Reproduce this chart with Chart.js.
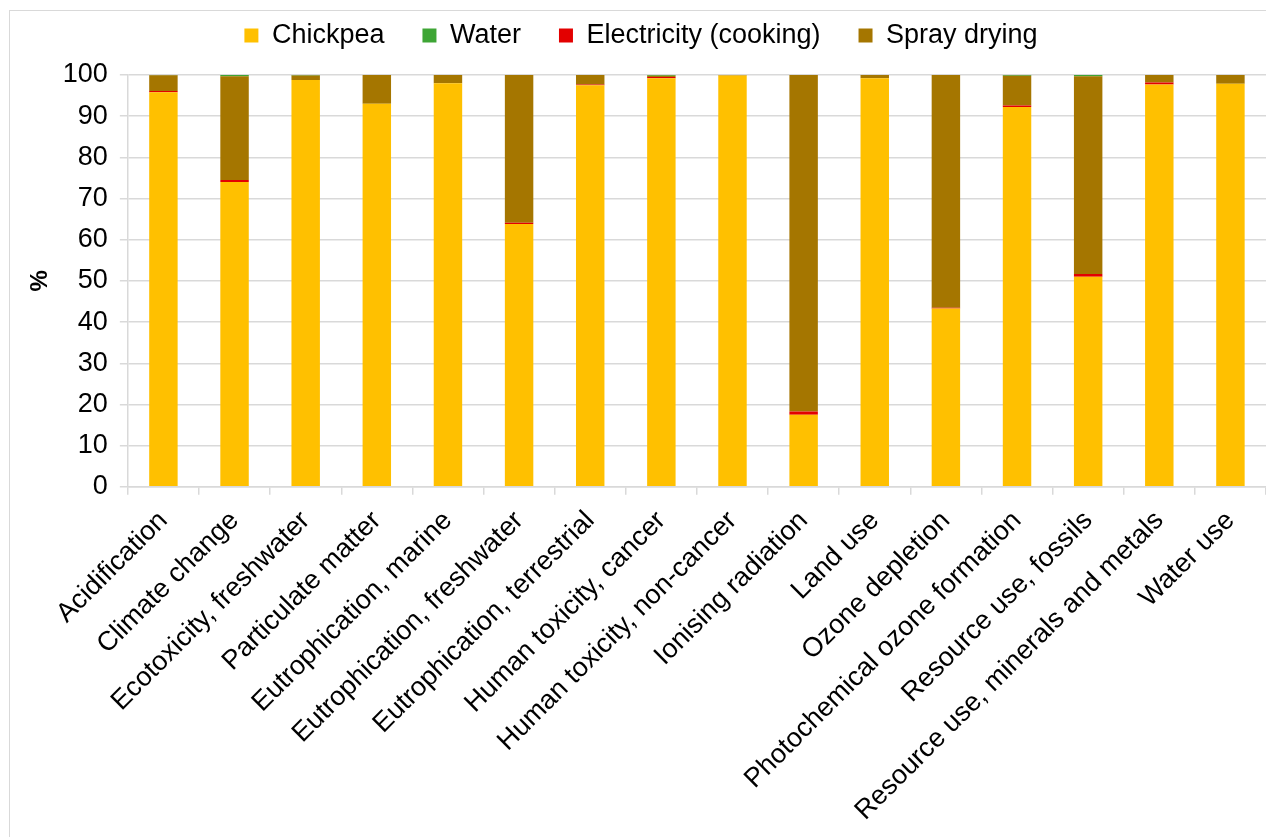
<!DOCTYPE html>
<html>
<head>
<meta charset="utf-8">
<script src="https://cdn.jsdelivr.net/npm/chart.js@4/dist/chart.umd.min.js"></script>
<style>
  html, body { margin: 0; padding: 0; background: #fff; overflow: hidden; }
  #frame {
    position: absolute; left: 9px; top: 10px;
    width: 1300px; height: 900px;
    border-left: 1px solid #d9d9d9; border-top: 1px solid #d9d9d9;
  }
  #wrap { position: absolute; left: 10px; top: -16px; width: 1256px; height: 853px; }
</style>
</head>
<body>
<div id="frame"></div>
<div id="wrap"><canvas id="myChart"></canvas></div>
<script>
const categories = [
  "Acidification", "Climate change", "Ecotoxicity, freshwater", "Particulate matter",
  "Eutrophication, marine", "Eutrophication, freshwater", "Eutrophication, terrestrial",
  "Human toxicity, cancer", "Human toxicity, non-cancer", "Ionising radiation", "Land use",
  "Ozone depletion", "Photochemical ozone formation", "Resource use, fossils",
  "Resource use, minerals and metals", "Water use"
];
const chickpea    = [95.8, 74.0, 98.8, 93.0, 98.0, 63.8, 97.5, 99.2, 99.9, 17.5, 99.2, 43.3, 92.2, 51.0, 97.7, 97.9];
const water       = [0.05, 0.3, 0.1, 0.0, 0.0, 0.0, 0.0, 0.2, 0.0, 0.0, 0.0, 0.0, 0.2, 0.3, 0.0, 0.0];
const electricity = [0.3, 0.5, 0.0, 0.0, 0.0, 0.3, 0.2, 0.3, 0.0, 0.8, 0.0, 0.2, 0.4, 0.7, 0.5, 0.0];
const sprayDrying = [3.85, 25.2, 1.1, 7.0, 2.0, 35.9, 2.3, 0.3, 0.1, 81.7, 0.8, 56.5, 7.2, 48.0, 1.8, 2.1];

const font = "'Liberation Sans', Arial, sans-serif";

// extra room between the legend and the plot
const legendGap = {
  id: "legendGap",
  beforeInit(chart) {
    const fit = chart.legend.fit;
    chart.legend.fit = function () {
      fit.bind(chart.legend)();
      this.height += 16;
    };
  },
};

new Chart("myChart", {
  type: "bar",
  data: {
    labels: categories,
    datasets: [
      { label: "Chickpea", data: chickpea, backgroundColor: "#ffc000", order: 1 },
      { label: "Water", data: water, backgroundColor: "#3ea535", order: 4 },
      { label: "Electricity (cooking)", data: electricity, backgroundColor: "#e30000", order: 2 },
      { label: "Spray drying", data: sprayDrying, backgroundColor: "#a57600", order: 3 },
    ],
  },
  plugins: [legendGap],
  options: {
    responsive: true,
    maintainAspectRatio: false,
    animation: false,
    barPercentage: 0.4,
    categoryPercentage: 1,
    layout: { padding: { left: 6, right: 0, top: 0, bottom: 0 } },
    plugins: {
      legend: {
        position: "top",
        labels: {
          font: { family: font, size: 27 },
          color: "#000",
          boxWidth: 14,
          boxHeight: 14,
          padding: 38,
          sort: (a, b) => a.datasetIndex - b.datasetIndex,
        },
      },
      tooltip: { enabled: false },
    },
    scales: {
      x: {
        stacked: true,
        grid: { drawOnChartArea: false, drawTicks: true, tickLength: 8, color: "#d9d9d9", lineWidth: 1.5 },
        border: { color: "#d9d9d9", width: 1.5 },
        ticks: {
          font: { family: font, size: 27 },
          color: "#000",
          minRotation: 45,
          maxRotation: 45,
          autoSkip: false,
          padding: 10,
        },
      },
      y: {
        stacked: true,
        min: 0,
        max: 100,
        ticks: { stepSize: 10, font: { family: font, size: 27 }, color: "#000", padding: 12 },
        grid: { color: "#d9d9d9", lineWidth: 1.5, tickLength: 8 },
        border: { color: "#d9d9d9", width: 1.5 },
        title: {
          display: true,
          text: "%",
          font: { family: font, size: 24, weight: "bold" },
          color: "#000",
          padding: { top: 10, bottom: -4 },
        },
      },
    },
  },
});
</script>
</body>
</html>
